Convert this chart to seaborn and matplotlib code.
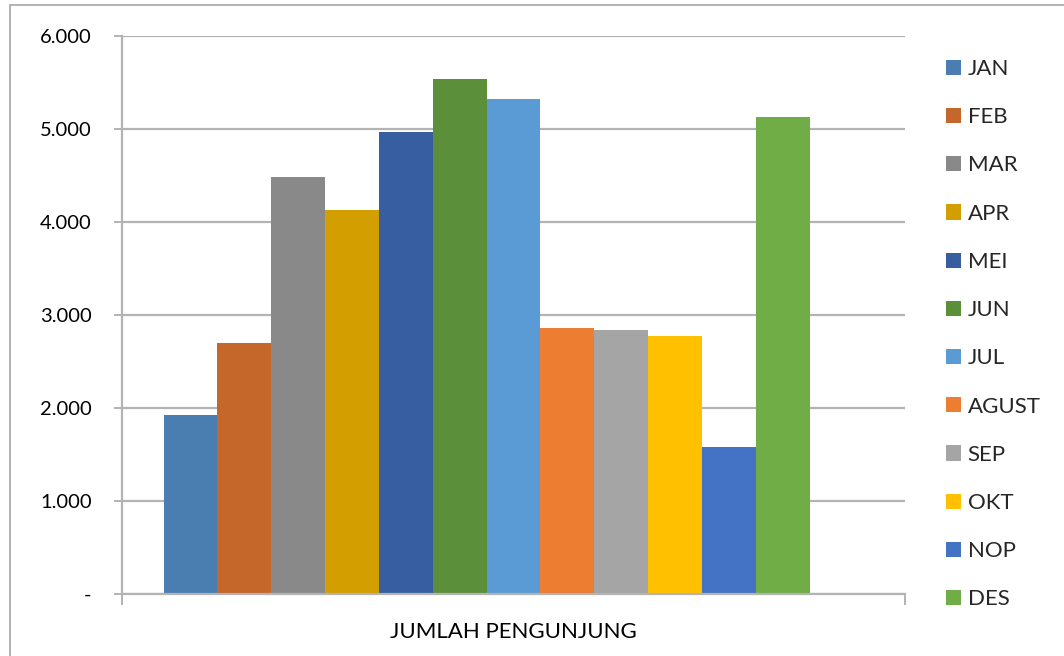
import pandas as pd
import seaborn as sns
import matplotlib.pyplot as plt
from matplotlib.patches import Patch, Rectangle
from matplotlib.ticker import FuncFormatter

# data
bulan = ["JAN", "FEB", "MAR", "APR", "MEI", "JUN",
         "JUL", "AGUST", "SEP", "OKT", "NOP", "DES"]
pengunjung = [1925, 2700, 4485, 4130, 4970, 5540,
              5325, 2860, 2840, 2775, 1580, 5130]
warna = ["#4A7EB1", "#C5662B", "#898989", "#D39E00", "#365EA1", "#5B8F3A",
         "#5B9BD5", "#ED7D31", "#A5A5A5", "#FFC000", "#4472C4", "#70AD47"]
kategori = "JUMLAH PENGUNJUNG"

# the source chart keeps an empty 13th slot after DES
kosong = " "
df = pd.DataFrame({
    "kategori": [kategori] * 13,
    "bulan": bulan + [kosong],
    "nilai": pengunjung + [0],
})
palet = dict(zip(bulan, warna))
palet[kosong] = "#FFFFFF"

sns.set_theme(style="white")
plt.rcParams["font.family"] = ["Lato", "DejaVu Sans"]

fig = plt.figure(figsize=(10.64, 6.56), dpi=100)
ax = fig.add_axes([0.1147, 0.0945, 0.7359, 0.8506])

sns.barplot(data=df, x="kategori", y="nilai", hue="bulan",
            hue_order=bulan + [kosong], palette=palet, width=0.894,
            saturation=1, dodge=True, linewidth=0, errorbar=None,
            legend=False, ax=ax)

ax.set_xlim(-0.5, 0.5)
ax.set_ylim(0, 6000)
ax.set_yticks(range(0, 6001, 1000))
ax.yaxis.set_major_formatter(
    FuncFormatter(lambda v, _: "-" if v == 0 else f"{int(v):,}".replace(",", ".")))
ax.grid(axis="y", color="#B3B3B3", linewidth=1.6)
ax.set_axisbelow(True)

for s in ["top", "right"]:
    ax.spines[s].set_visible(False)
for s in ["left", "bottom"]:
    ax.spines[s].set_color("#B3B3B3")
    ax.spines[s].set_linewidth(1.6)

ax.tick_params(axis="y", direction="out", length=6, width=1.4, color="#B3B3B3",
               left=True, pad=16, labelsize=14.5, labelcolor="#000000")
ax.tick_params(axis="x", length=0, pad=20, labelsize=16, labelcolor="#000000")
ax.set_xticks([-0.5, 0.5], minor=True)
ax.tick_params(axis="x", which="minor", direction="out", length=8, width=1.4,
               color="#B3B3B3", bottom=True)
ax.set_xlabel("")
ax.set_ylabel("")

handles = [Patch(facecolor=c, edgecolor="none", label=b) for b, c in zip(bulan, warna)]
fig.legend(handles=handles, loc="upper left", bbox_to_anchor=(0.889, 0.910),
           frameon=False, fontsize=16, handlelength=0.68, handleheight=0.68,
           handletextpad=0.3, labelspacing=1.27, borderaxespad=0, borderpad=0)

# chart-area border
fig.patches.append(Rectangle((10 / 1064, -0.01), 1.0, 1.0 - 5 / 656 + 0.01,
                             transform=fig.transFigure, fill=False,
                             edgecolor="#A6A6A6", linewidth=1.2))

fig.savefig("out.png", dpi=100)
